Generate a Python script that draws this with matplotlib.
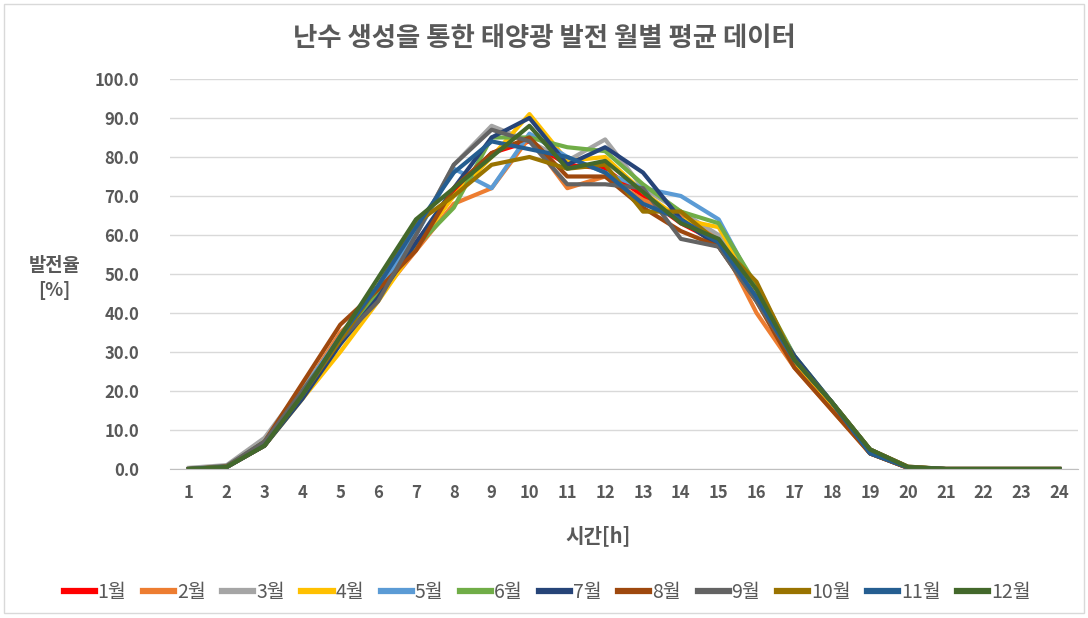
import matplotlib
matplotlib.use("Agg")
import matplotlib.pyplot as plt
from matplotlib.patches import Rectangle

plt.rcParams['font.family'] = ['Noto Sans CJK KR', 'DejaVu Sans']

hours = list(range(1, 25))
months = ['1월', '2월', '3월', '4월', '5월', '6월', '7월', '8월', '9월', '10월', '11월', '12월']
colors = ['#FF0000', '#ED7D31', '#A5A5A5', '#FFC000', '#5B9BD5', '#70AD47',
          '#264478', '#9E480E', '#636363', '#997300', '#255E91', '#43682B']

m1 = [0, 0.5, 6, 19, 33, 45, 58, 71, 81, 84, 78, 77, 70, 63, 58, 44, 28, 16, 4, 0.3, 0, 0, 0, 0]
m2 = [0, 0.5, 7, 20, 35, 44, 56, 68, 72, 85, 72, 75, 69, 65, 59, 40, 26, 15, 4, 0.5, 0, 0, 0, 0]
m3 = [0.3, 1, 8, 21, 33, 46, 60, 78, 88, 84, 79, 84.5, 72, 66, 60, 44, 28, 17, 5, 0.5, 0, 0, 0, 0]
m4 = [0, 0.5, 6, 18, 30, 43, 57, 70, 80, 91, 79, 80, 71, 64, 62, 45, 27, 16, 4, 0.3, 0, 0, 0, 0]
m5 = [0, 0.5, 7, 20, 34, 46, 60, 77, 72, 86, 80, 76, 72, 70, 64, 46, 29, 17, 5, 0.5, 0, 0, 0, 0]
m6 = [0, 0.6, 7, 20, 33, 45, 57, 67, 85, 85, 82.5, 81.5, 73, 66, 63, 47, 29, 17, 5, 0.5, 0, 0, 0, 0]
m7 = [0, 0.5, 6, 18, 32, 44, 58, 72, 85, 90, 78, 82.5, 76, 64, 57, 44, 29, 17, 4, 0.3, 0, 0, 0, 0]
m8 = [0, 0.5, 7, 22, 37, 46, 56, 72, 81, 85, 75, 75, 67, 61, 57, 43, 26, 15, 4, 0.3, 0, 0, 0, 0]
m9 = [0, 0.8, 7, 20, 33, 43, 60, 78, 87, 84, 73, 73, 72, 59, 57, 43, 28, 17, 5, 0.6, 0, 0, 0, 0]
m10 = [0, 0.6, 6, 19, 33, 47, 63, 70, 78, 80, 77, 78, 66, 66, 58, 48, 28, 17, 5, 0.6, 0, 0, 0, 0]
m11 = [0, 0.5, 6, 19, 34, 47, 62, 76, 84, 82, 80, 76, 68, 64, 58, 44, 28, 17, 4, 0.4, 0, 0, 0, 0]
m12 = [0, 0.5, 6, 19, 34, 49, 64, 72, 80, 88, 77, 79, 71, 63, 59, 46, 28, 17, 5, 0.5, 0, 0, 0, 0]
series = [m1, m2, m3, m4, m5, m6, m7, m8, m9, m10, m11, m12]

yticks = [0, 10, 20, 30, 40, 50, 60, 70, 80, 90, 100]

fig = plt.figure(figsize=(10.88, 6.18), dpi=100)
fig.patches.append(Rectangle((0.004, 0.008), 0.992, 0.985, transform=fig.transFigure,
                             fill=False, edgecolor='#D9D9D9', linewidth=1))
ax = fig.add_axes([0.1562, 0.2411, 0.8348, 0.6311])

for s, c, lab in zip(series, colors, months):
    ax.plot(hours, s, color=c, linewidth=3, label=lab, solid_joinstyle='round')

ax.set_xlim(0.5, 24.5)
ax.set_ylim(0, 100)
ax.set_yticks(yticks)
ax.set_yticklabels([f"{v:.1f}" for v in yticks])
ax.set_xticks(hours)
ax.set_xticklabels([str(h) for h in hours])
ax.grid(axis='y', color='#D9D9D9', linewidth=1)
ax.set_axisbelow(True)
for sp in ['top', 'right', 'left']:
    ax.spines[sp].set_visible(False)
ax.spines['bottom'].set_color('#BFBFBF')
ax.tick_params(axis='both', length=0, colors='#595959', labelsize=12)
ax.tick_params(axis='x', pad=11)
ax.tick_params(axis='y', pad=22)
for t in ax.get_xticklabels() + ax.get_yticklabels():
    t.set_fontweight('bold')

fig.text(0.5, 0.938, '난수 생성을 통한 태양광 발전 월별 평균 데이터', ha='center', va='center',
         fontsize=19, fontweight='bold', color='#595959')
fig.text(0.05, 0.55, '발전율\n[%]', ha='center', va='center', fontsize=13.5,
         fontweight='bold', color='#595959', linespacing=1.4)
fig.text(0.55, 0.133, '시간[h]', ha='center', va='center', fontsize=14.5,
         fontweight='bold', color='#595959')

leg = fig.legend(loc='center', bbox_to_anchor=(0.503, 0.042), ncol=12, frameon=False,
                 fontsize=14, handlelength=1.6, handletextpad=0.15, columnspacing=0.85)
for t in leg.get_texts():
    t.set_color('#595959')
for l in leg.get_lines():
    l.set_linewidth(4.5)

fig.savefig('out.png', dpi=100)
